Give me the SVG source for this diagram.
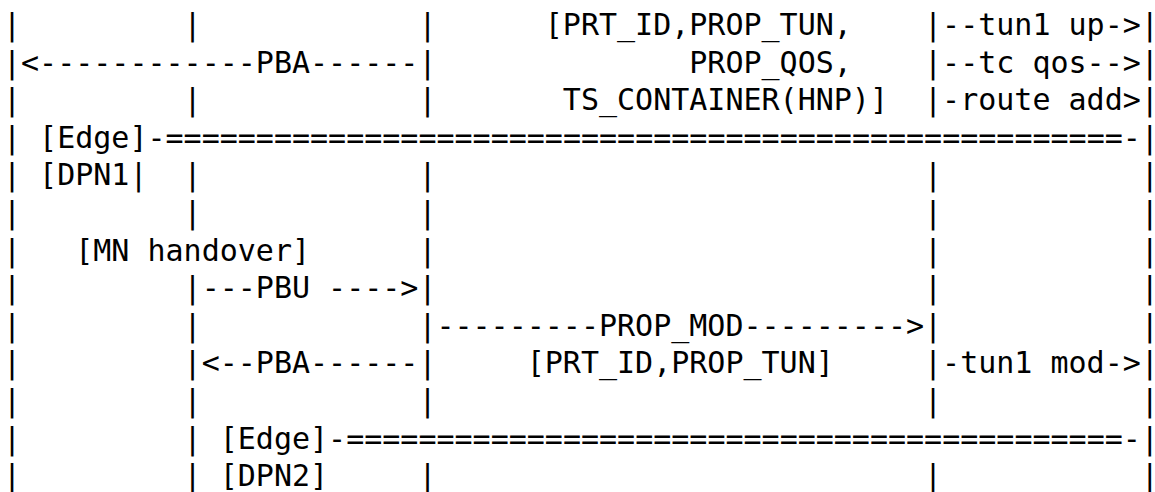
<svg xmlns="http://www.w3.org/2000/svg" width="1155" height="492" viewBox="0 0 1155 492">
<style>
text{font-family:"DejaVu Sans Mono","Liberation Mono",monospace;font-size:30px;fill:#000;white-space:pre}
</style>
<rect width="1155" height="492" fill="#fff"/>
<g id="lifelines">
<text x="3" y="35">|</text><text x="183.6" y="35">|</text><text x="418.38" y="35">|</text>
<text x="3" y="110.2">|</text><text x="183.6" y="110.2">|</text><text x="418.38" y="110.2">|</text>
<text x="3" y="147.8">|</text>
<text x="3" y="185.4">|</text><text x="183.6" y="185.4">|</text><text x="418.38" y="185.4">|</text><text x="924.06" y="185.4">|</text><text x="1140.78" y="185.4">|</text>
<text x="3" y="223">|</text><text x="183.6" y="223">|</text><text x="418.38" y="223">|</text><text x="924.06" y="223">|</text><text x="1140.78" y="223">|</text>
<text x="3" y="260.6">|</text><text x="418.38" y="260.6">|</text><text x="924.06" y="260.6">|</text><text x="1140.78" y="260.6">|</text>
<text x="3" y="298.2">|</text><text x="924.06" y="298.2">|</text><text x="1140.78" y="298.2">|</text>
<text x="3" y="335.8">|</text><text x="183.6" y="335.8">|</text><text x="1140.78" y="335.8">|</text>
<text x="3" y="373.4">|</text>
<text x="3" y="411">|</text><text x="183.6" y="411">|</text><text x="418.38" y="411">|</text><text x="924.06" y="411">|</text><text x="1140.78" y="411">|</text>
<text x="3" y="448.6">|</text><text x="183.6" y="448.6">|</text>
<text x="3" y="486.2">|</text><text x="183.6" y="486.2">|</text><text x="418.38" y="486.2">|</text><text x="924.06" y="486.2">|</text><text x="1140.78" y="486.2">|</text>
</g>
<g id="connectors">
<text x="924.06" y="35">|--tun1 up-&gt;|</text>
<text x="3" y="72.6">|&lt;------------PBA------|</text>
<text x="924.06" y="72.6">|--tc qos--&gt;|</text>
<text x="924.06" y="110.2">|-route add&gt;|</text>
<text x="183.6" y="298.2">|---PBU ----&gt;|</text>
<text x="418.38" y="335.8">|---------PROP_MOD---------&gt;|</text>
<text x="183.6" y="373.4">|&lt;--PBA------|</text>
<text x="924.06" y="373.4">|-tun1 mod-&gt;|</text>
</g>
<g id="edge-dpn1">
<text x="39.12" y="147.8">[Edge]-=====================================================-|</text>
<text x="39.12" y="185.4">[DPN1|</text>
</g>
<g id="mn-handover">
<text x="75.24" y="260.6">[MN handover]</text>
</g>
<g id="edge-dpn2">
<text x="219.72" y="448.6">[Edge]-===========================================-|</text>
<text x="219.72" y="486.2">[DPN2]</text>
</g>
<g id="labels">
<text x="544.8" y="35">[PRT_ID,PROP_TUN,</text>
<text x="689.28" y="72.6">PROP_QOS,</text>
<text x="562.86" y="110.2">TS_CONTAINER(HNP)]</text>
<text x="526.74" y="373.4">[PRT_ID,PROP_TUN]</text>
</g>
</svg>
